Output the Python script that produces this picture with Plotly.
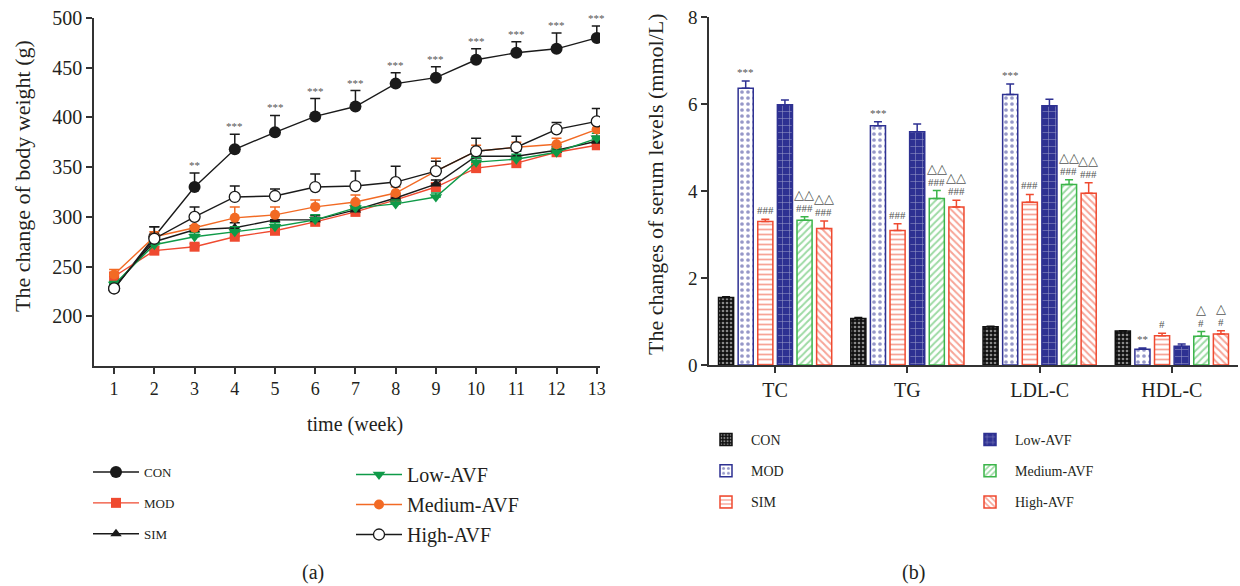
import plotly.graph_objects as go

# ---------------- data: body weight (a) ----------------
weeks = list(range(1, 14))
con = [228, 280, 330, 368, 385, 401, 411, 434, 440, 458, 465, 469, 480]
con_err = [3, 10, 14, 15, 17, 18, 16, 11, 11, 11, 11, 16, 12]
mod = [240, 266, 270, 280, 286, 295, 305, 317, 330, 349, 354, 365, 372]
mod_err = [4, 4, 3, 4, 4, 4, 4, 4, 4, 4, 4, 4, 4]
sim = [230, 275, 287, 289, 297, 297, 307, 319, 333, 361, 361, 367, 376]
sim_err = [3, 5, 4, 5, 5, 4, 4, 4, 4, 4, 5, 4, 5]
low = [232, 272, 280, 285, 290, 297, 309, 313, 320, 355, 358, 365, 379]
low_err = [3, 4, 4, 5, 4, 5, 4, 4, 4, 5, 5, 4, 5]
med = [242, 280, 289, 299, 302, 310, 315, 324, 346, 366, 370, 373, 388]
med_err = [5, 5, 8, 11, 8, 7, 7, 6, 13, 6, 5, 6, 7]
high = [228, 278, 300, 320, 321, 330, 331, 335, 346, 366, 370, 388, 396]
high_err = [3, 12, 10, 11, 7, 13, 15, 16, 10, 13, 11, 7, 13]
con_sig = ["", "", "**", "***", "***", "***", "***", "***", "***", "***", "***", "***", "***"]

# ---------------- data: serum lipids (b) ----------------
lipids = ["TC", "TG", "LDL-C", "HDL-C"]
con_l = [1.55, 1.07, 0.88, 0.78]
con_l_err = [0.02, 0.02, 0.01, 0.01]
mod_l = [6.36, 5.50, 6.22, 0.36]
mod_l_err = [0.17, 0.09, 0.24, 0.03]
sim_l = [3.30, 3.09, 3.74, 0.67]
sim_l_err = [0.05, 0.16, 0.18, 0.06]
low_l = [5.98, 5.36, 5.96, 0.43]
low_l_err = [0.11, 0.18, 0.15, 0.05]
med_l = [3.33, 3.83, 4.15, 0.66]
med_l_err = [0.08, 0.18, 0.11, 0.11]
high_l = [3.14, 3.63, 3.95, 0.71]
high_l_err = [0.17, 0.16, 0.24, 0.08]
mod_sig = ["***", "***", "***", "**"]
sim_sig = ["###", "###", "###", "#"]
med_hash = ["###", "###", "###", "#"]
med_tri = ["△△", "△△", "△△", "△"]
high_hash = ["###", "###", "###", "#"]
high_tri = ["△△", "△△", "△△", "△"]

FONT = "Liberation Serif"
TXT = "#231f20"
NAVY = "#2e3192"
RED = "#ef4a30"
GREEN = "#3cb54a"
LGREEN = "#0f9a48"
ORANGE = "#f26a24"
AX = "#333333"
SIGC = "#555555"

fig = go.Figure()

# ---------- line chart ----------
line_specs = [
    ("CON", con, con_err, "#1a1a1a", dict(symbol="circle", size=12, color="#1a1a1a"), "legend"),
    ("MOD", mod, mod_err, RED, dict(symbol="square", size=10, color=RED), "legend"),
    ("SIM", sim, sim_err, "#1a1a1a", dict(symbol="triangle-up", size=10, color="#1a1a1a"), "legend"),
    ("Low-AVF", low, low_err, LGREEN, dict(symbol="triangle-down", size=11, color=LGREEN), "legend2"),
    ("Medium-AVF", med, med_err, ORANGE, dict(symbol="circle", size=10, color=ORANGE), "legend2"),
    ("High-AVF", high, high_err, "#1a1a1a",
     dict(symbol="circle", size=11, color="white", line=dict(color="#1a1a1a", width=1.3)), "legend2"),
]
for name, vals, err, col, mk, lg in line_specs:
    fig.add_trace(go.Scatter(
        x=weeks, y=vals, name=name, mode="lines+markers",
        line=dict(color=col, width=1.4), marker=mk,
        error_y=dict(type="data", symmetric=False, array=err, arrayminus=[0] * len(err),
                     color=col, thickness=1.5, width=5),
        xaxis="x", yaxis="y", legend=lg, legendgroup=name,
    ))

# ---------- bar chart ----------
bar_specs = [
    ("CON", con_l, con_l_err, dict(shape=".", bgcolor="#111111", fgcolor="white", size=4, solidity=0.35), "#111111", "legend3"),
    ("MOD", mod_l, mod_l_err, dict(shape=".", bgcolor="white", fgcolor=NAVY, size=6, solidity=0.3), NAVY, "legend3"),
    ("SIM", sim_l, sim_l_err, dict(shape="-", bgcolor="white", fgcolor=RED, size=5, solidity=0.35), RED, "legend3"),
    ("Low-AVF", low_l, low_l_err, dict(shape="+", bgcolor=NAVY, fgcolor="white", size=7, solidity=0.15), NAVY, "legend4"),
    ("Medium-AVF", med_l, med_l_err, dict(shape="/", bgcolor="white", fgcolor=GREEN, size=5, solidity=0.4), GREEN, "legend4"),
    ("High-AVF", high_l, high_l_err, dict(shape="\\", bgcolor="white", fgcolor=RED, size=5, solidity=0.4), RED, "legend4"),
]
for name, vals, err, pat, lc, lg in bar_specs:
    fig.add_trace(go.Bar(
        x=lipids, y=vals, name=name,
        marker=dict(color=pat["bgcolor"], pattern=pat, line=dict(color=lc, width=1.5)),
        error_y=dict(type="data", symmetric=False, array=err, arrayminus=[0] * len(err),
                     color=lc, thickness=1.5, width=4),
        xaxis="x2", yaxis="y2", legend=lg, legendgroup="b" + name,
    ))

annotations = []
# stars over CON line
for w, v, e, s in zip(weeks, con, con_err, con_sig):
    if s:
        annotations.append(dict(x=w, y=v + e, xref="x", yref="y", text=s, showarrow=False,
                                yanchor="bottom", yshift=0, font=dict(family=FONT, size=11, color=SIGC)))

# bar annotations
cat_px = 131.3
pitch = cat_px * (1 - 0.11) / 6


def off(i):
    return (i - 2.5) * pitch


for j, c in enumerate(lipids):
    for i, vals, errs, sigs in [(1, mod_l, mod_l_err, mod_sig), (2, sim_l, sim_l_err, sim_sig),
                                (4, med_l, med_l_err, med_hash), (5, high_l, high_l_err, high_hash)]:
        annotations.append(dict(x=c, y=vals[j] + errs[j], xref="x2", yref="y2", text=sigs[j],
                                showarrow=False, yanchor="bottom", xshift=off(i), yshift=1,
                                font=dict(family=FONT, size=11, color=SIGC)))
    for i, vals, errs, sigs in [(4, med_l, med_l_err, med_tri), (5, high_l, high_l_err, high_tri)]:
        annotations.append(dict(x=c, y=vals[j] + errs[j], xref="x2", yref="y2", text=sigs[j],
                                showarrow=False, yanchor="bottom", xshift=off(i), yshift=13,
                                font=dict(family="DejaVu Sans", size=13, color=SIGC)))

# axis titles and panel labels
annotations += [
    dict(x=22 / 1240, y=1 - 176 / 586, xref="paper", yref="paper", text="The change of body weight (g)",
         textangle=-90, showarrow=False, xanchor="center", yanchor="middle",
         font=dict(family=FONT, size=22, color=TXT)),
    dict(x=355 / 1240, y=1 - 424 / 586, xref="paper", yref="paper", text="time (week)",
         showarrow=False, xanchor="center", yanchor="middle", font=dict(family=FONT, size=20, color=TXT)),
    dict(x=655 / 1240, y=1 - 184 / 586, xref="paper", yref="paper", text="The changes of serum levels (mmol/L)",
         textangle=-90, showarrow=False, xanchor="center", yanchor="middle",
         font=dict(family=FONT, size=22, color=TXT)),
    dict(x=313 / 1240, y=1 - 572 / 586, xref="paper", yref="paper", text="(a)",
         showarrow=False, xanchor="center", yanchor="middle", font=dict(family=FONT, size=20, color=TXT)),
    dict(x=913 / 1240, y=1 - 572 / 586, xref="paper", yref="paper", text="(b)",
         showarrow=False, xanchor="center", yanchor="middle", font=dict(family=FONT, size=20, color=TXT)),
]

axis_common = dict(showline=True, linecolor=AX, linewidth=1.5, ticks="outside", ticklen=6,
                   tickcolor=AX, tickwidth=1.5, showgrid=False, zeroline=False, automargin=False)


def tf(s):
    return dict(family=FONT, size=s, color=TXT)


legend_common = dict(orientation="v", bgcolor="rgba(0,0,0,0)",
                     xanchor="left", yanchor="top", itemclick=False)

fig.update_layout(
    width=1240, height=586,
    margin=dict(l=0, r=0, t=0, b=0, autoexpand=False),
    paper_bgcolor="white", plot_bgcolor="white",
    barmode="group", bargap=0.11, bargroupgap=0.23,
    xaxis=dict(domain=[94 / 1240, 600 / 1240], range=[0.5, 13.08], tickvals=weeks,
               anchor="y", tickfont=tf(18), **axis_common),
    yaxis=dict(domain=[1 - 366 / 586, 1 - 18 / 586], range=[150, 500],
               tickvals=[200, 250, 300, 350, 400, 450, 500], anchor="x", tickfont=tf(20), **axis_common),
    xaxis2=dict(domain=[709 / 1240, 1238 / 1240], range=[-0.5, 3.5], anchor="y2",
                tickfont=tf(20), **axis_common),
    yaxis2=dict(domain=[1 - 365 / 586, 1 - 17 / 586], range=[0, 8], dtick=2, anchor="x2",
                tickfont=tf(19), **axis_common),
    legend=dict(x=88 / 1240, y=1 - 457 / 586, font=tf(13), tracegroupgap=11, itemwidth=46, **legend_common),
    legend2=dict(x=351 / 1240, y=1 - 455 / 586, font=tf(20), tracegroupgap=1, itemwidth=46, **legend_common),
    legend3=dict(x=701 / 1240, y=1 - 424 / 586, font=tf(14), tracegroupgap=10, itemwidth=40, **legend_common),
    legend4=dict(x=965 / 1240, y=1 - 424 / 586, font=tf(14), tracegroupgap=10, itemwidth=40, **legend_common),
    annotations=annotations,
    showlegend=True,
)

fig.write_html("out.html", config={"displayModeBar": False},
               post_script="document.body.style.margin='0';document.body.style.overflow='hidden';")
